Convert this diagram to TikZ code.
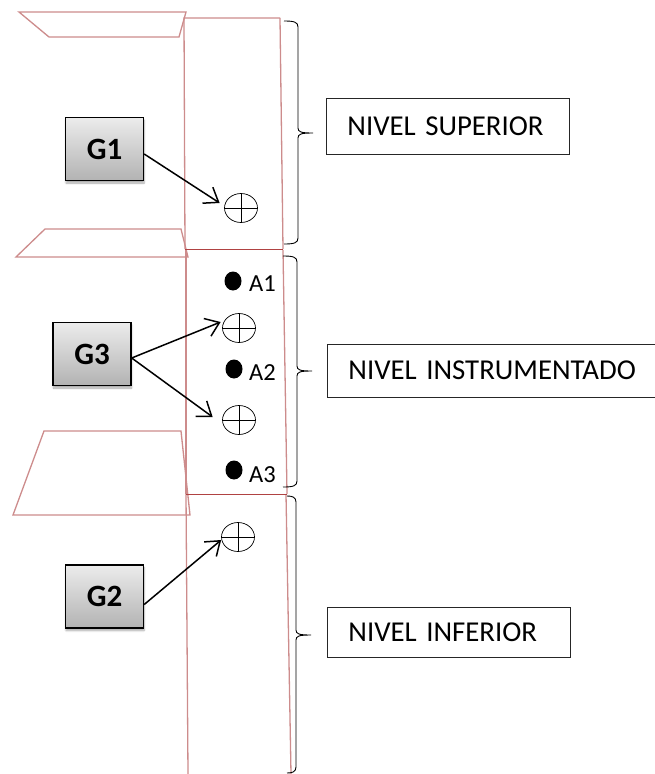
\documentclass[tikz,border=0pt]{standalone}
\usepackage{fontspec}
\setmainfont{Carlito}
\usetikzlibrary{shapes.geometric,arrows.meta,positioning,shadows.blur}
\definecolor{wallred}{RGB}{205,140,140}
\definecolor{slabred}{RGB}{176,66,66}
\tikzset{
    wall/.style={draw=wallred, line width=1.3pt},
    gainbox/.style={draw=black, line width=1.4pt, top color=gray!15, bottom color=gray!60,
        minimum width=78pt, minimum height=63pt, inner sep=0pt, font=\fontsize{31}{31}\selectfont\bfseries,
        blur shadow={shadow xshift=0.5pt, shadow yshift=-2.5pt, shadow blur steps=6, shadow opacity=35}},
    levelbox/.style={draw=black!85, line width=0.8pt, anchor=west, inner ysep=0pt, inner xsep=21pt, align=left,
        font=\fontsize{28.8}{28.8}\selectfont},
    hinge/.style={draw=black, line width=0.7pt, ellipse, fill=white, minimum width=33pt, minimum height=29pt, inner sep=0pt},
    sensor/.style={fill=black, ellipse, minimum width=17pt, minimum height=19pt, inner sep=0pt},
    sensorlabel/.style={font=\fontsize{24.5}{24.5}\selectfont, anchor=west, inner sep=0pt},
    push/.style={->, line width=1.5pt, >={Straight Barb[length=13pt, width=19pt, line width=1.5pt]}}
}
\begin{document}
\begin{tikzpicture}[x=1pt, y=-1pt]
    \useasboundingbox (0,0) rectangle (654,774);

    % --- losas ---
    \draw[wall, fill=white] (19,12) -- (186,12) -- (179,37) -- (49,37) -- cycle;
    \draw[wall, fill=white] (16,257) -- (45,229) -- (181,229) -- (188,257) -- cycle;
    \draw[wall, fill=white] (13,515) -- (44,431) -- (181,431) -- (190,515) -- cycle;

    % --- muro por niveles ---
    \draw[wall] (280,18) -- (184,18) -- (185,249);
    \draw[wall] (280,18) -- (283,249);
    \draw[wall] (186,250) -- (186,494);
    \draw[wall] (283,250) -- (287,494);
    \draw[wall] (186,494) -- (188,774);
    \draw[wall] (286,494) -- (291,774);
    \draw[slabred, line width=1pt] (185,249) -- (283,249);
    \draw[slabred, line width=1pt] (186,494) -- (287,494);

    % --- llaves ---
    \foreach \xa/\xb/\ya/\ym/\yb/\xt in {284/298/21/133/244/313, 283/297/256/371/487/312, 287/296/496/635/773/311} {
        \draw[black, line width=0.9pt] (\xa,\ya) .. controls (\xb-4,\ya) and (\xb,\ya+1) .. (\xb,\ya+6)
            -- (\xb,\ym-5) .. controls (\xb,\ym-1) and (\xb+3,\ym) .. (\xt,\ym)
            (\xt,\ym) .. controls (\xb+3,\ym) and (\xb,\ym+1) .. (\xb,\ym+5)
            -- (\xb,\yb-6) .. controls (\xb,\yb-1) and (\xb-4,\yb) .. (\xa,\yb);
    }

    % --- actuadores ---
    \node[gainbox] (g1) at (104.5,149) {G1};
    \node[gainbox] (g3) at (92,354) {G3};
    \node[gainbox] (g2) at (104.5,596.5) {G2};

    % --- rotulas ---
    \node[hinge] (c1) at (241,208) {};
    \node[hinge] (c2) at (239,328) {};
    \node[hinge] (c3) at (239,420) {};
    \node[hinge] (c4) at (238,537) {};
    \foreach \hname in {c1,c2,c3,c4} {
        \draw[line width=0.7pt] (\hname.north) -- (\hname.south);
        \draw[line width=0.7pt] (\hname.west) -- (\hname.east);
    }

    % --- acelerometros ---
    \node[sensor] (s1) at (233,281) {};
    \node[sensor] (s2) at (234,369) {};
    \node[sensor] (s3) at (234,470) {};
    \node[sensorlabel] (a1) at (249,284) {A1};
    \node[sensorlabel] (a2) at (249,373) {A2};
    \node[sensorlabel] (a3) at (249,475) {A3};

    % --- flechas ---
    \draw[push] ([yshift=-5pt]g1.east) -- ([shift={(-4.5pt,5pt)}]c1.west);
    \draw[push] ([yshift=-4pt]g3.east) -- ([shift={(-1.5pt,6pt)}]c2.west);
    \draw[push] ([yshift=-4pt]g3.east) -- ([shift={(-9.5pt,3pt)}]c3.west);
    \draw[push] ([yshift=-8pt]g2.east) -- ([shift={(0pt,-3pt)}]c4.west);

    % --- niveles ---
    \node[levelbox, text width=201pt, minimum height=56pt] (sup) at (326,126) {\raisebox{-1pt}{NIVEL SUPERIOR}};
    \node[levelbox, text width=290pt, minimum height=53pt] (ins) at (327,370.5) {\raisebox{-3pt}{NIVEL INSTRUMENTADO}};
    \node[levelbox, text width=201pt, minimum height=50pt] (inf) at (327,632) {\raisebox{-3pt}{NIVEL INFERIOR}};
\end{tikzpicture}
\end{document}
